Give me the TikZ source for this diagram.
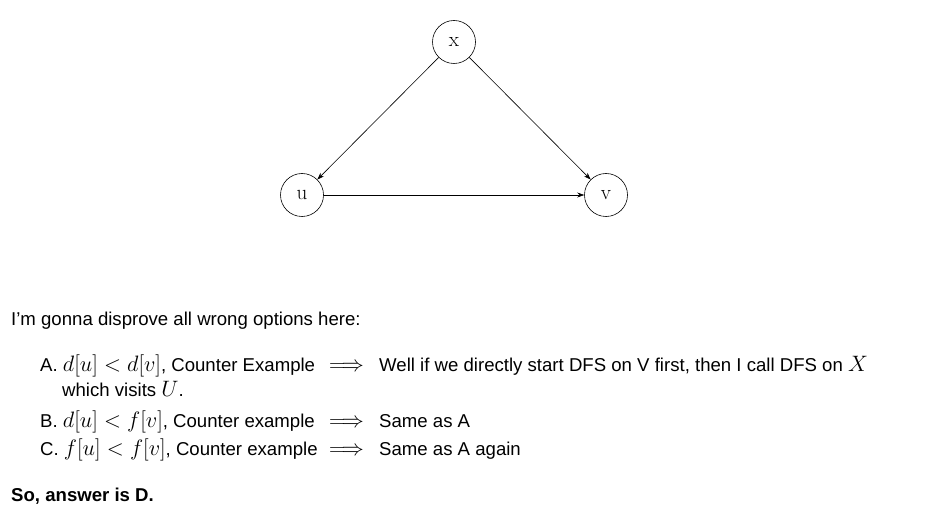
\documentclass[tikz,border=0pt]{standalone}
\usepackage{fix-cm}
\usepackage{fontspec}
\setmainfont{Liberation Sans}
\usetikzlibrary{arrows.meta}
\newcommand{\mm}[1]{{\fontsize{22.3}{22}\selectfont$#1$}}
\newcommand{\lhs}[1]{\makebox[289pt][l]{#1}}
\newcommand{\impl}{\makebox[50pt][l]{\mm{\Longrightarrow}}}
\begin{document}
\begin{tikzpicture}[x=1pt,y=-1pt,
  vert/.style={circle,draw,line width=0.6pt,minimum size=43pt,inner sep=0pt,font=\fontsize{21}{21}\fontspec{Latin Modern Roman}},
  edge/.style={draw,line width=0.6pt,-{Stealth[length=7pt,width=5pt]}},
  txt/.style={anchor=base west,inner sep=0pt,font=\fontsize{18.6}{22}\selectfont}]
\useasboundingbox (0,0) rectangle (925,518);
\node[vert] (x) at (454,42) {x};
\node[vert] (u) at (302,195) {u};
\node[vert] (v) at (606,195) {v};
\draw[edge] (x) -- (u);
\draw[edge] (x) -- (v);
\draw[edge] (u) -- (v);
\node[txt] (t0) at (11,325) {I'm gonna disprove all wrong options here:};
\node[txt] (a) at (40,371) {\lhs{A. \mm{d[u] < d[v]}, Counter Example}\impl Well if we directly start DFS on V first, then I call DFS on \mm{X}};
\node[txt] (a4) at (62,396) {which visits \mm{U}.};
\node[txt] (b) at (40,427) {\lhs{B. \mm{d[u] < f[v]}, Counter example}\impl Same as A};
\node[txt] (c) at (40,455) {\lhs{C. \mm{f[u] < f[v]}, Counter example}\impl Same as A again};
\node[txt,font=\fontsize{18.6}{22}\selectfont\bfseries] (s) at (11,501) {So, answer is D.};
\end{tikzpicture}
\end{document}
